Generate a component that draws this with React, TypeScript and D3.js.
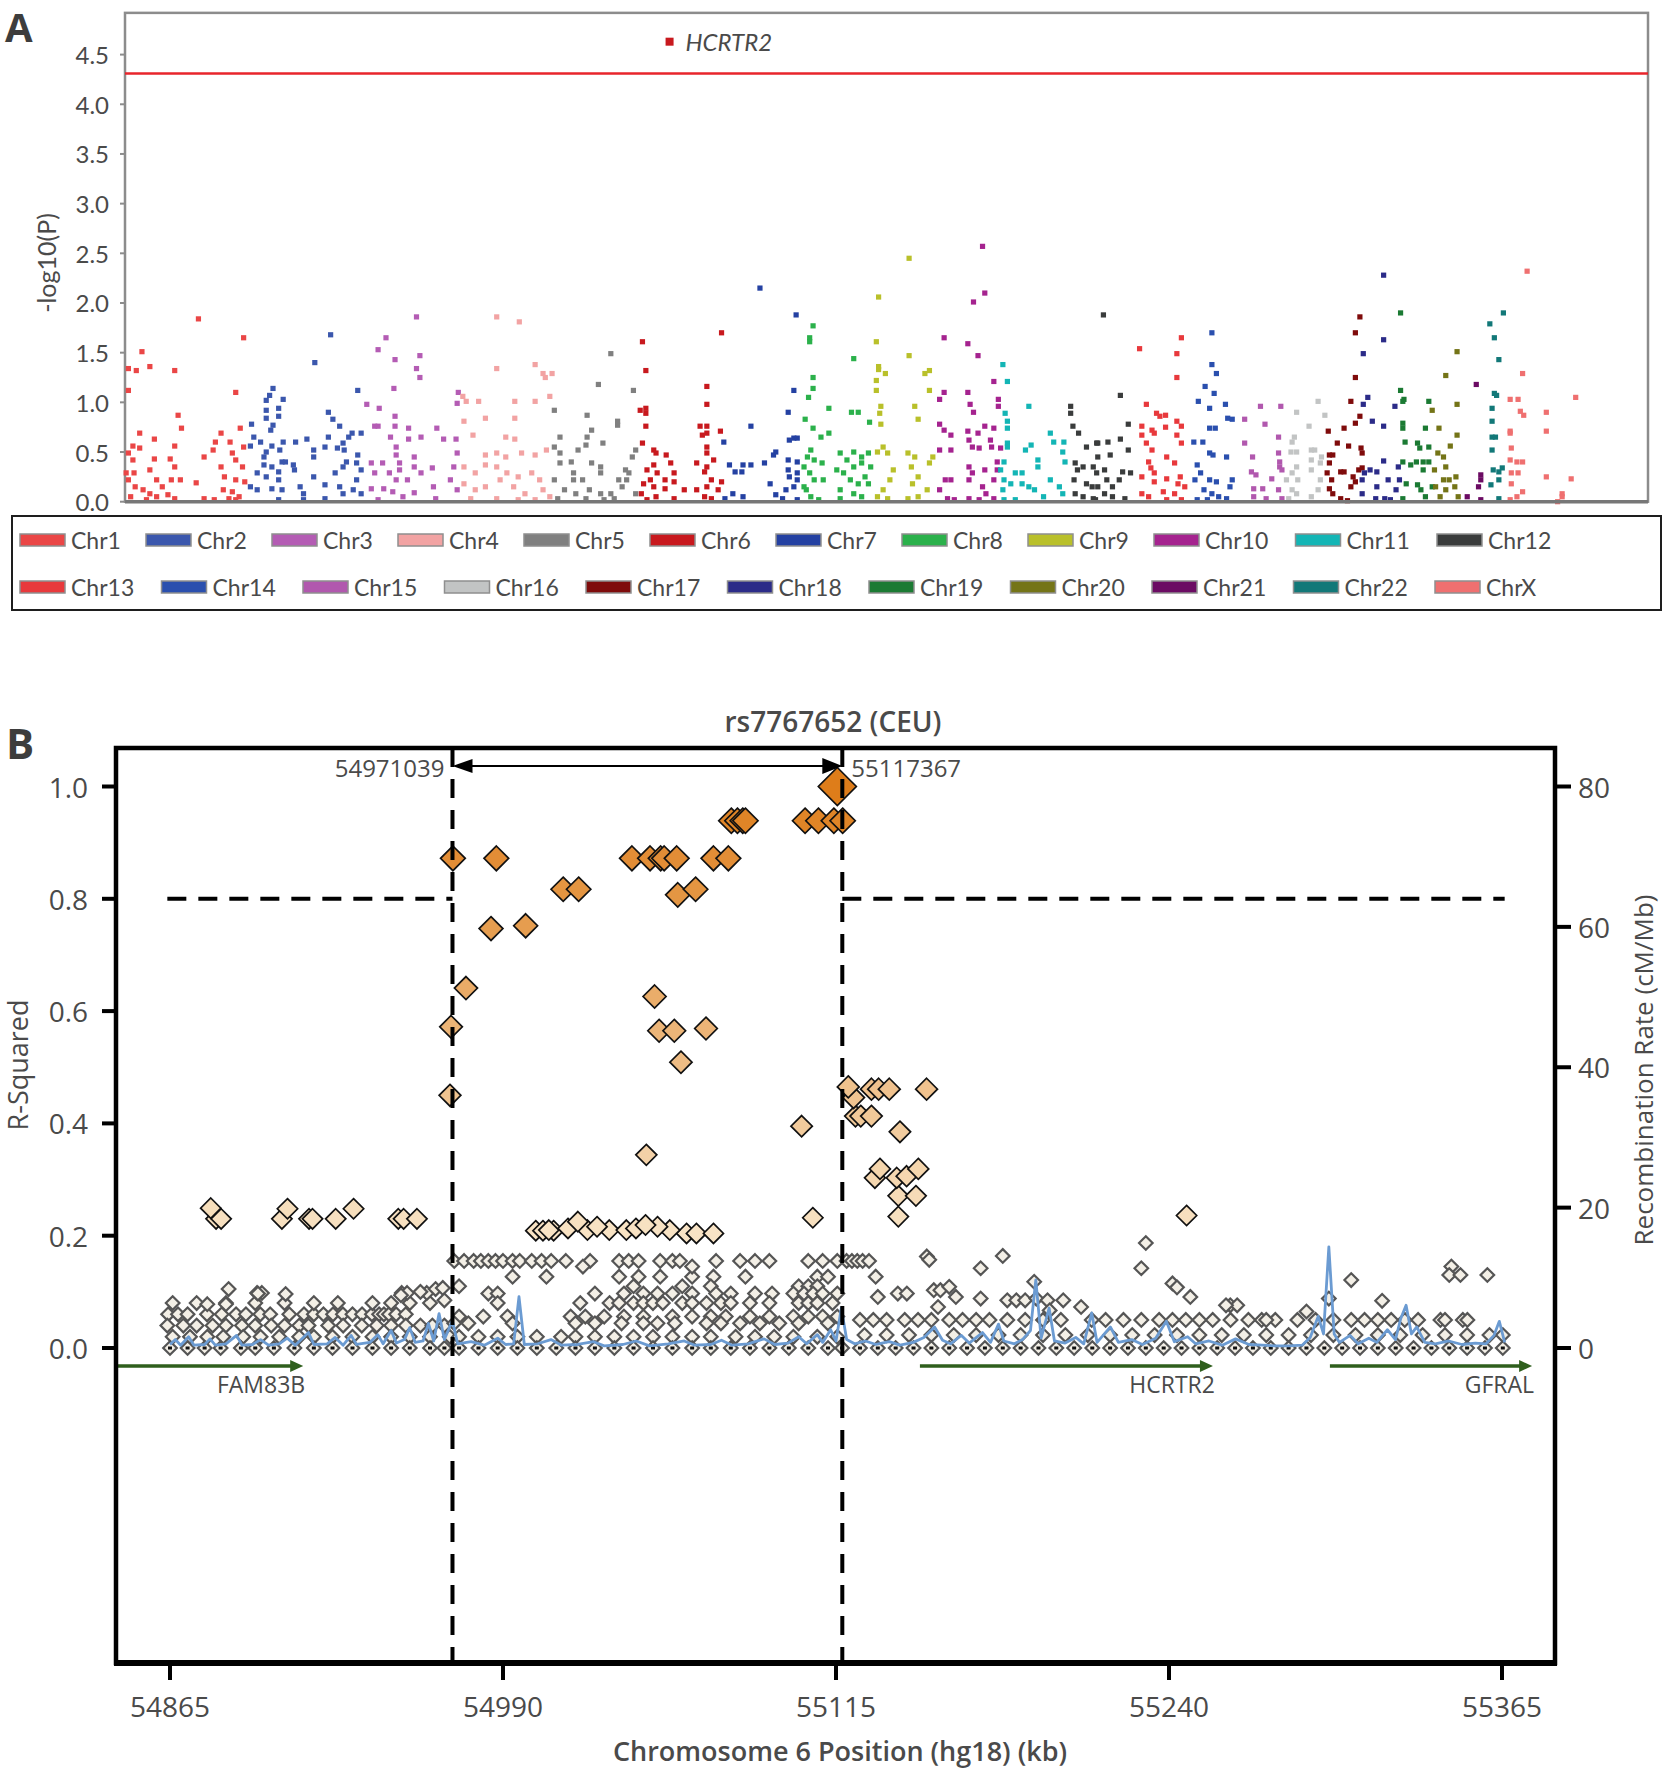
import React from "react";
import * as d3 from "d3";

// ---------------- Panel A data ----------------
const chromNames = ["Chr1","Chr2","Chr3","Chr4","Chr5","Chr6","Chr7","Chr8","Chr9","Chr10","Chr11","Chr12","Chr13","Chr14","Chr15","Chr16","Chr17","Chr18","Chr19","Chr20","Chr21","Chr22","ChrX"];
const chromColors = ["#ea4646","#3b57ad","#b45cb4","#f2a3a3","#808080","#c8191e","#2441a2","#2bb14b","#b9c02a","#a5238f","#13b5b5","#3a3c3c","#e8393c","#2a4fae","#b158ae","#c2c4c4","#7f0b0b","#2b2b88","#1b7a33","#747417","#6b0b63","#127878","#ef7070"];

const chr1 = [[3,1.34],[3,1.12],[15,1.51],[10,1.32],[22,1.36],[44,1.32],[65,1.84],[105,1.65],[98,1.10],[47,0.87],[50,0.74],[13,0.69],[26,0.63],[7,0.56],[13,0.54],[44,0.56],[3,0.49],[7,0.42],[26,0.43],[22,0.32],[40,0.43],[44,0.35],[28,0.22],[41,0.22],[49,0.22],[63,0.19],[3,0.22],[9,0.15],[16,0.12],[22,0.08],[28,0.05],[38,0.07],[44,0.03],[70,0.03],[79,0.02],[70,0.45],[78,0.52],[80,0.60],[85,0.69],[93,0.60],[102,0.74],[95,0.49],[105,0.55],[98,0.42],[85,0.35],[104,0.35],[88,0.25],[98,0.22],[106,0.20],[87,0.12],[95,0.10],[101,0.05],[92,0.03],[98,0.02],[5,0.05],[19,0.02],[1,0.29],[8,0.29],[33,0.15]];
const chr2 = [[131,1.14],[128,1.07],[125,1.02],[140,1.03],[136,0.94],[125,0.92],[136,0.86],[125,0.84],[131,0.77],[112,0.78],[129,0.72],[114,0.65],[120,0.60],[140,0.60],[151,0.60],[161,0.63],[111,0.56],[130,0.56],[125,0.50],[137,0.52],[168,1.40],[182,1.68],[206,1.12],[180,0.90],[184,0.83],[190,0.76],[180,0.65],[198,0.65],[201,0.69],[209,0.69],[193,0.59],[177,0.55],[188,0.54],[194,0.52],[167,0.52],[167,0.45],[206,0.47],[123,0.45],[139,0.40],[142,0.40],[149,0.37],[150,0.32],[123,0.37],[130,0.35],[136,0.30],[117,0.29],[111,0.15],[117,0.12],[125,0.25],[136,0.22],[130,0.13],[139,0.12],[155,0.15],[158,0.08],[167,0.25],[177,0.17],[186,0.29],[193,0.35],[196,0.40],[205,0.39],[209,0.32],[205,0.22],[190,0.15],[193,0.08],[202,0.12],[209,0.08],[177,0.03],[158,0.02],[136,0.02]];
const chr3 = [[258,1.86],[231,1.65],[224,1.53],[239,1.43],[261,1.47],[258,1.34],[261,1.25],[238,1.14],[214,0.98],[225,0.94],[239,0.86],[221,0.76],[224,0.76],[239,0.76],[251,0.74],[276,0.74],[235,0.65],[251,0.63],[262,0.65],[282,0.63],[293,0.63],[295,1.10],[294,0.99],[240,0.55],[240,0.47],[243,0.39],[256,0.45],[256,0.35],[243,0.32],[218,0.39],[228,0.39],[221,0.29],[234,0.29],[240,0.22],[250,0.22],[262,0.29],[272,0.34],[273,0.15],[288,0.22],[291,0.35],[294,0.49],[294,0.12],[218,0.13],[229,0.13],[237,0.10],[246,0.05],[256,0.09],[275,0.03],[224,0.02]];
const chr4 = [[329,1.86],[349,1.81],[329,1.34],[363,1.38],[370,1.29],[378,1.29],[372,1.25],[376,1.06],[363,1.01],[345,1.01],[313,1.01],[299,1.06],[302,1.01],[319,0.84],[345,0.84],[300,0.81],[308,0.67],[337,0.65],[345,0.63],[319,0.47],[329,0.49],[337,0.45],[351,0.49],[363,0.47],[373,0.52],[300,0.35],[310,0.29],[319,0.37],[329,0.35],[338,0.29],[348,0.25],[360,0.29],[367,0.22],[300,0.18],[310,0.12],[319,0.15],[332,0.22],[344,0.15],[354,0.08],[370,0.12],[376,0.05],[306,0.03],[329,0.03],[348,0.02],[363,0.02]];
const chr5 = [[430,1.49],[419,1.18],[450,1.12],[380,0.92],[409,0.87],[413,0.72],[385,0.65],[409,0.65],[423,0.59],[436,0.81],[436,0.77],[380,0.55],[385,0.49],[401,0.52],[408,0.57],[395,0.40],[413,0.39],[421,0.35],[421,0.29],[443,0.32],[446,0.29],[452,0.52],[449,0.45],[397,0.29],[405,0.22],[397,0.22],[385,0.39],[380,0.22],[389,0.12],[399,0.08],[411,0.12],[421,0.08],[430,0.08],[440,0.15],[437,0.22],[444,0.22],[452,0.08],[383,0.03],[408,0.03],[424,0.02],[433,0.03]];
const chr6 = [[458,1.61],[461,1.32],[456,0.92],[461,0.94],[461,0.89],[461,0.76],[458,0.59],[528,1.70],[515,1.16],[515,0.98],[509,0.76],[515,0.76],[515,0.69],[511,0.67],[527,0.71],[515,0.55],[515,0.49],[521,0.42],[506,0.39],[515,0.35],[513,0.30],[519,0.22],[528,0.20],[525,0.12],[515,0.15],[506,0.12],[513,0.05],[519,0.03],[468,0.52],[470,0.49],[479,0.47],[483,0.39],[468,0.37],[462,0.32],[471,0.29],[465,0.22],[478,0.22],[486,0.29],[486,0.20],[459,0.18],[468,0.15],[478,0.13],[457,0.08],[470,0.05],[486,0.03],[495,0.12],[462,0.02]];
const chr7 = [[562,2.15],[594,1.88],[592,1.12],[587,0.90],[554,0.76],[530,0.60],[588,0.62],[592,0.64],[595,0.64],[576,0.50],[574,0.47],[535,0.37],[540,0.30],[546,0.30],[547,0.37],[554,0.37],[566,0.39],[571,0.18],[587,0.42],[587,0.32],[588,0.25],[595,0.40],[595,0.29],[592,0.15],[595,0.22],[585,0.12],[576,0.07],[538,0.08],[547,0.05],[531,0.03],[582,0.03],[595,0.02]];
const chr8 = [[609,1.77],[606,1.65],[606,1.61],[609,1.25],[609,1.14],[605,1.05],[623,0.94],[645,1.44],[643,0.90],[649,0.90],[602,0.83],[609,0.74],[623,0.69],[616,0.65],[659,0.80],[607,0.52],[604,0.45],[610,0.42],[617,0.39],[601,0.35],[606,0.29],[610,0.22],[618,0.22],[601,0.15],[603,0.12],[607,0.05],[614,0.02],[633,0.49],[639,0.42],[645,0.50],[652,0.45],[658,0.49],[630,0.32],[636,0.29],[645,0.35],[652,0.39],[660,0.35],[642,0.22],[649,0.18],[655,0.25],[658,0.18],[633,0.12],[645,0.08],[652,0.05],[633,0.03]];
const chr9 = [[694,2.45],[667,2.06],[665,1.61],[694,1.47],[667,1.36],[667,1.33],[673,1.29],[665,1.22],[665,1.12],[708,1.29],[712,1.32],[712,1.12],[669,0.96],[668,0.89],[699,0.96],[702,0.83],[669,0.78],[671,0.55],[666,0.50],[675,0.49],[680,0.32],[677,0.22],[671,0.12],[666,0.05],[675,0.03],[693,0.49],[699,0.45],[696,0.35],[702,0.25],[697,0.18],[712,0.39],[715,0.45],[710,0.12],[702,0.05],[693,0.03]];
const chr10 = [[759,2.57],[761,2.10],[751,2.01],[725,1.65],[746,1.59],[755,1.47],[769,1.21],[725,1.10],[721,1.03],[746,1.10],[748,0.98],[751,0.90],[773,1.03],[773,0.96],[721,0.78],[725,0.72],[731,0.67],[746,0.71],[755,0.69],[761,0.76],[769,0.74],[721,0.52],[731,0.52],[747,0.62],[750,0.55],[756,0.54],[766,0.62],[767,0.55],[775,0.54],[747,0.35],[750,0.29],[761,0.32],[772,0.32],[772,0.40],[769,0.22],[747,0.22],[759,0.15],[762,0.08],[721,0.12],[726,0.22],[731,0.22],[728,0.03],[734,0.02],[747,0.03],[756,0.02],[769,0.03]];
const chr11 = [[777,1.38],[781,1.21],[800,0.96],[779,0.89],[781,0.81],[781,0.74],[781,0.59],[781,0.55],[819,0.69],[822,0.60],[831,0.60],[797,0.52],[802,0.57],[830,0.50],[832,0.40],[778,0.40],[775,0.32],[788,0.29],[794,0.29],[808,0.42],[808,0.35],[778,0.22],[784,0.18],[794,0.18],[800,0.15],[805,0.12],[777,0.12],[778,0.02],[788,0.02],[813,0.05],[819,0.22],[827,0.15],[830,0.08]];
const chr12 = [[837,0.96],[837,0.89],[839,0.76],[844,0.69],[851,0.55],[860,0.59],[841,0.39],[843,0.32],[840,0.22],[848,0.35],[851,0.18],[856,0.15],[860,0.29],[841,0.08],[848,0.05],[857,0.03],[866,1.88],[881,1.07],[888,0.78],[881,0.63],[888,0.52],[861,0.59],[870,0.60],[872,0.47],[861,0.45],[857,0.35],[867,0.32],[883,0.30],[890,0.29],[869,0.22],[861,0.15],[874,0.15],[880,0.22],[867,0.08],[874,0.05],[885,0.03],[859,0.02]];
const chr13 = [[898,1.54],[935,1.65],[931,1.49],[931,1.25],[904,0.98],[913,0.89],[916,0.86],[921,0.87],[900,0.76],[909,0.72],[911,0.69],[900,0.67],[921,0.75],[931,0.81],[935,0.76],[931,0.67],[935,0.59],[904,0.59],[909,0.52],[922,0.45],[929,0.39],[906,0.40],[908,0.34],[911,0.29],[900,0.25],[922,0.23],[934,0.25],[932,0.18],[911,0.20],[938,0.15],[919,0.10],[900,0.08],[906,0.05],[929,0.08],[935,0.02],[922,0.02]];
const chr14 = [[962,1.70],[962,1.38],[966,1.29],[956,1.16],[964,1.09],[950,1.01],[960,0.94],[974,0.98],[976,0.84],[980,0.83],[960,0.74],[965,0.74],[946,0.60],[954,0.60],[960,0.49],[963,0.47],[975,0.45],[949,0.37],[952,0.29],[947,0.22],[960,0.22],[966,0.20],[980,0.22],[978,0.15],[955,0.12],[962,0.08],[968,0.05],[958,0.02],[949,0.02],[975,0.03]];
const chr15 = [[1005,0.96],[1023,0.96],[991,0.83],[1009,0.78],[991,0.59],[1021,0.65],[998,0.45],[1021,0.49],[1022,0.40],[1022,0.35],[1024,0.32],[997,0.30],[1001,0.27],[1015,0.23],[999,0.13],[1007,0.13],[999,0.05],[1010,0.03],[1021,0.12],[1024,0.03]];
const chr16 = [[1056,1.01],[1037,0.90],[1062,0.87],[1048,0.76],[1035,0.65],[1033,0.60],[1032,0.50],[1037,0.50],[1050,0.52],[1053,0.52],[1050,0.42],[1059,0.45],[1058,0.39],[1050,0.32],[1033,0.29],[1037,0.35],[1028,0.22],[1038,0.22],[1058,0.22],[1033,0.12],[1037,0.08],[1050,0.05],[1056,0.12],[1030,0.03]];
const chr17 = [[1093,1.86],[1089,1.70],[1089,1.25],[1085,1.01],[1093,0.86],[1089,0.79],[1065,0.71],[1079,0.74],[1073,0.59],[1083,0.56],[1094,0.54],[1095,0.49],[1066,0.47],[1069,0.47],[1066,0.39],[1064,0.29],[1068,0.22],[1066,0.13],[1069,0.08],[1076,0.30],[1079,0.30],[1087,0.25],[1089,0.20],[1092,0.32],[1095,0.34],[1085,0.15],[1076,0.03],[1082,0.01]];
const chr18 = [[1114,2.28],[1114,1.63],[1096,1.49],[1100,1.05],[1096,0.98],[1104,0.81],[1114,0.76],[1124,0.96],[1114,0.41],[1102,0.32],[1108,0.30],[1097,0.29],[1095,0.22],[1108,0.15],[1118,0.22],[1127,0.35],[1128,0.22],[1125,0.12],[1095,0.08],[1107,0.03],[1115,0.03],[1120,0.02]];
const chr19 = [[1129,1.90],[1129,1.12],[1132,1.03],[1131,1.01],[1131,0.79],[1131,0.74],[1133,0.60],[1154,1.01],[1151,0.74],[1144,0.59],[1146,0.54],[1154,0.55],[1131,0.40],[1138,0.37],[1143,0.40],[1149,0.40],[1154,0.40],[1149,0.32],[1144,0.17],[1147,0.12],[1151,0.05],[1134,0.18],[1131,0.03],[1157,0.15]];
const chr20 = [[1179,1.51],[1169,1.27],[1179,0.98],[1157,0.92],[1163,0.74],[1179,0.67],[1173,0.56],[1162,0.49],[1167,0.45],[1169,0.35],[1159,0.32],[1167,0.22],[1172,0.22],[1178,0.25],[1160,0.15],[1169,0.12],[1177,0.15],[1180,0.05],[1164,0.05]];
const chr21 = [[1196,1.18],[1200,0.27],[1198,0.15],[1200,0.22],[1188,0.05],[1200,0.02]];
const chr22 = [[1220,1.90],[1208,1.79],[1212,1.65],[1216,1.43],[1212,1.09],[1214,1.07],[1210,0.94],[1210,0.81],[1210,0.65],[1213,0.65],[1210,0.52],[1211,0.32],[1216,0.30],[1219,0.34],[1216,0.22],[1209,0.17],[1216,0.03]];
const chrX = [[1241,2.32],[1237,1.29],[1226,1.03],[1233,1.03],[1235,0.91],[1238,0.87],[1258,0.90],[1284,1.05],[1226,0.71],[1226,0.69],[1258,0.71],[1227,0.54],[1226,0.42],[1232,0.40],[1237,0.40],[1227,0.29],[1233,0.29],[1227,0.18],[1258,0.25],[1280,0.23],[1237,0.10],[1232,0.05],[1226,0.02],[1272,0.08],[1272,0.05],[1268,0.00]];
const manhattan = [chr1,chr2,chr3,chr4,chr5,chr6,chr7,chr8,chr9,chr10,chr11,chr12,chr13,chr14,chr15,chr16,chr17,chr18,chr19,chr20,chr21,chr22,chrX];

const topHit = { pos: 482, value: 4.63, label: "HCRTR2", chrom: 5 };
const thresholdA = 4.31;
const yTicksA = [0, 0.5, 1.0, 1.5, 2.0, 2.5, 3.0, 3.5, 4.0, 4.5];

// ---------------- Panel B data ----------------
const leadSnp = { name: "rs7767652 (CEU)", kb: 55115.5, r2: 1.0 };
const blockBounds = [54971.039, 55117.367];
const blockLabels = ["54971039", "55117367"];
const r2Threshold = 0.8;
const thresholdSpan = [54864, 55366];

const ldColored = [
  [54971.2,0.872],[54987.5,0.872],[55012.6,0.817],[55018.4,0.817],[54985.5,0.747],[54998.5,0.752],[54976.1,0.641],[54970.5,0.572],[54970.1,0.45],
  [55038.4,0.872],[55045.2,0.872],[55049.2,0.872],[55050.5,0.872],[55055.2,0.872],[55069.0,0.872],[55074.6,0.872],
  [55055.6,0.807],[55062.3,0.817],
  [55075.7,0.939],[55078,0.939],[55080,0.939],[55081,0.939],[55103.4,0.939],[55108.4,0.939],[55114.2,0.939],[55117.5,0.939],
  [55046.9,0.626],[55048.6,0.565],[55054.3,0.565],[55066.2,0.569],[55056.8,0.509],
  [55043.8,0.344],[55102.1,0.395],
  [55119.6,0.465],[55121.6,0.446],[55128.3,0.461],[55131,0.461],[55135,0.461],[55149,0.461],
  [55122.3,0.413],[55124.3,0.413],[55128.3,0.413],[55139,0.385],
  [55131.5,0.319],[55129.6,0.303],[55137.8,0.303],[55141.5,0.306],[55145.9,0.319],[55138.4,0.271],[55145,0.271],[55138.4,0.234],[55106.3,0.232],[55246.6,0.236],
  [54880.3,0.249],[54882.3,0.23],[54884.2,0.23],[54907,0.23],[54909.1,0.248],[54917.2,0.23],[54918.5,0.23],[54927.2,0.23],[54933.9,0.248],[54950.7,0.23],[54952.7,0.23],[54957.7,0.23],
  [55002.3,0.209],[55005,0.209],[55009,0.209],[55007.2,0.21],[55014.4,0.213],[55018.1,0.225],[55021.7,0.21],[55025.3,0.216],[55029.9,0.21],[55036.3,0.21],[55039.9,0.213],[55043.5,0.219],[55048,0.216],[55052.6,0.21],[55058.9,0.204],[55062.6,0.204],[55069,0.204]
];

const grayRows = [
  { r2: 0.06, kb: [54864.3,54868,54871.6,54878.9,54884.4,54889.8,54893.5,54898.9,54902.6,54909.8,54915.3,54919,54922.6,54926.2,54929.9,54933.5,54937.1,54940.8,54943.5,54945.3,54947.2,54949.9,54953.5] },
  { r2: 0.08, kb: [54866,54875,54886,54897,54908,54919,54928,54941,54948,54955,54962.6] },
  { r2: 0.04, kb: [54864,54870,54875,54881,54886,54892,54897,54903,54908,54913.5,54917,54924.4,54930,54937,54942.6,54948,54953.5,54959,54963.5,54968] },
  { r2: 0.02, kb: [54866,54872.5,54879,54885,54892.5,54899,54906,54913.5,54919,54926,54933.5,54941,54948,54955,54962.6,54970] },
  { r2: 0.0, kb: [54865,54871.6,54878,54884,54891.6,54897,54904,54911.7,54919,54926,54933.5,54941,54948,54955,54962.6,54968] },
  { r2: 0.155, kb: [54971.7,54975.4,54979,54981.7,54984.5,54987.2,54990,54993.6,54996.3,55000.8,55004.5,55008.1,55013.6,55022.7,55033.6,55037.2,55040.9,55049,55053.6,55056.4,55070,55079,55084.6,55090,55104.6,55110,55115.5,55119,55121,55123,55125,55127.4] },
  { r2: 0.127, kb: [54993.6,55006.3,55033.6,55040.9,55049,55061,55069,55081,55108,55112,55129.9] },
  { r2: 0.11, kb: [54973.5,55039,55057.3,55068,55101,55104.6,55108] },
  { r2: 0.097, kb: [54984.5,54988,55024.5,55035.4,55042.7,55048,55053.6,55061,55070,55075.5,55084.6,55091,55099,55103,55106.4,55110,55115.5,55138.2,55141.6] },
  { r2: 0.08, kb: [54988,55019,55030,55033.6,55039,55042.7,55046.3,55050,55057.3,55061,55066.4,55071.8,55075.5,55082.7,55090,55101,55104.6,55108,55113.7] },
  { r2: 0.056, kb: [54973.5,54982.6,54991.7,55015.4,55020.9,55028,55035.4,55042.7,55053.6,55061,55068,55073.6,55082.7,55090,55099,55104.6,55110,55115.5] },
  { r2: 0.044, kb: [54971.7,54977,54993.6,55017.2,55024.5,55034.5,55042.7,55048,55054.5,55066.4,55071.8,55079,55086.4,55093.7,55101,55112] },
  { r2: 0.02, kb: [54973.5,54980.8,54988,54995.4,55002.7,55011.8,55017.2,55024.5,55031.8,55039,55046.3,55053.6,55061,55068,55077.3,55084.6,55091.8,55099,55108,55115.5] },
  { r2: 0.0, kb: [54973.5,54980.8,54988,54995.4,55002.7,55010,55017.2,55024.5,55031.8,55039,55046.3,55053.6,55061,55068,55075.5,55082.7,55090,55097.3,55104.6,55112,55117.3] },
  { r2: 0.05, kb: [55124,55129,55134,55140.8,55145.8,55150.8,55157.5,55162.5,55167.6,55172.6,55179.3,55186,55192.7,55199.4,55211,55216.2,55222.9,55229.6,55236.3,55241.3,55246.3,55251.4,55256.4,55263.1,55269.8,55274.8,55279.9,55288.2,55295,55301.7,55308.4,55313.4,55318.4,55323.4,55328.5,55333.5,55341.9,55350.3] },
  { r2: 0.023, kb: [55125.7,55134,55142.4,55150.8,55159.2,55167.6,55176,55184.3,55192.7,55201.1,55209.5,55217.9,55226.2,55234.6,55243,55251.4,55259.8,55268.1,55276.5,55284.9,55293.3,55301.7,55310,55318.4,55326.8,55335.2,55343.6,55351.9,55360.3,55365.3] },
  { r2: 0.0, kb: [55124,55130.7,55137.4,55144.1,55150.8,55157.5,55164.2,55170.9,55177.6,55184.3,55191,55197.7,55204.4,55211.2,55217.9,55224.6,55231.3,55238,55244.7,55251.4,55258.1,55264.8,55271.5,55278.2,55284.9,55291.6,55298.3,55305,55311.7,55318.4,55325.1,55331.8,55338.5,55345.2,55351.9,55358.6,55365.3] }
];

const grayScatter = [
  [54887,0.105],[54897.7,0.098],[54899.5,0.098],[54908.4,0.096],[54879,0.078],[54886,0.078],[54952,0.098],[54954,0.098],[54961.4,0.098],[54964.7,0.105],[54967.4,0.107],[54898,0.097],[54951.7,0.094],[54959,0.1],[54968,0.085],
  [55020,0.145],[55061,0.145],
  [55149.1,0.163],[55150,0.157],[55177.6,0.164],[55169.3,0.142],[55231.3,0.187],[55229.6,0.142],[55241.3,0.115],[55243,0.108],[55248,0.091],[55308.4,0.121],[55346,0.145],[55345.2,0.13],[55349.4,0.13],[55359.5,0.13],[55320,0.084],[55300,0.088],[55263,0.076],[55265.6,0.076],[55291.6,0.065],[55343.6,0.05],[55352,0.05],
  [55130.7,0.091],[55151.7,0.103],[55154.2,0.103],[55157.5,0.109],[55160,0.091],[55153.3,0.073],[55169.3,0.088],[55179.3,0.085],[55182.7,0.085],[55186,0.085],[55190.2,0.088],[55194.4,0.085],[55200.3,0.085],[55189.4,0.118],[55195.2,0.067],[55207,0.073],[55261.4,0.076],[55276.5,0.05]
];

const recomb = [
  [54865,0.5],[54867,1.2],[54869,0.4],[54872,1.6],[54874,0.4],[54878,0.5],[54880,1.3],[54882,0.4],[54886,0.6],[54890,1.8],[54892,0.4],[54896,0.5],[54899,1.2],[54902,0.4],[54906,0.6],[54909,1.4],[54912,0.4],[54917,2.2],[54919,0.5],[54924,0.6],[54927,1.5],[54930,0.4],[54933,1.8],[54935,0.5],[54940,0.8],[54943,1.9],[54945,0.6],[54948,2.5],[54950,0.7],[54953,1.2],[54955,2.9],[54957,0.8],[54960,1.0],[54962,3.5],[54964,1.0],[54966,4.9],[54968,1.2],[54971,3.9],[54973,0.6],[54978,0.9],[54983,0.4],[54988,1.4],[54991,0.5],[54994,0.6],[54996,7.3],[54998,0.5],[55003,0.6],[55008,1.2],[55012,0.4],[55018,0.5],[55024,0.9],[55028,0.3],[55035,0.5],[55040,1.0],[55045,0.3],[55052,0.6],[55058,1.0],[55062,0.4],[55068,0.5],[55072,1.1],[55076,0.4],[55082,0.6],[55088,1.3],[55092,0.5],[55097,0.7],[55101,1.6],[55104,0.6],[55108,1.9],[55110,0.8],[55113,2.6],[55115,1.0],[55117,5.7],[55119,1.2],[55122,0.6],[55126,1.0],[55130,0.5],[55135,0.9],[55139,0.4],[55144,0.8],[55148,1.5],[55152,3.0],[55155,1.1],[55158,0.6],[55162,1.8],[55165,0.7],[55170,2.2],[55173,0.8],[55176,3.4],[55178,1.0],[55182,0.6],[55185,1.2],[55188,2.5],[55190,9.7],[55192,1.4],[55195,5.7],[55197,1.0],[55201,0.7],[55205,1.5],[55208,0.6],[55211,5.0],[55213,0.8],[55218,3.0],[55221,0.8],[55226,1.2],[55230,0.5],[55235,1.4],[55239,3.8],[55242,0.9],[55247,1.6],[55250,0.6],[55255,1.0],[55260,0.4],[55265,1.3],[55270,0.5],[55275,0.4],[55280,0.3],[55285,0.3],[55290,0.4],[55293,1.5],[55296,4.5],[55298,2.0],[55300,14.4],[55302,2.0],[55304,0.8],[55308,1.8],[55311,0.6],[55315,1.4],[55318,0.8],[55322,2.6],[55325,1.2],[55327,4.2],[55329,6.1],[55331,2.0],[55333,3.0],[55336,0.8],[55340,0.6],[55345,1.0],[55350,0.5],[55355,0.7],[55359,0.6],[55362,1.8],[55364,3.8],[55366,0.8]
];

const genes = [
  { name: "FAM83B", start: 54845, end: 54915 },
  { name: "HCRTR2", start: 55146.5, end: 55256.5 },
  { name: "GFRAL", start: 55300.4, end: 55376.3 }
];

const xTicksB = [54865, 54990, 55115, 55240, 55365];
const yTicksB = [0, 0.2, 0.4, 0.6, 0.8, 1.0];
const yTicksR = [0, 20, 40, 60, 80];

const diamond = (r: number) => `M0,${-r}L${r},0L0,${r}L${-r},0Z`;

export default function App() {
  const W = 1668, H = 1772;
  // Panel A scales
  const xA = d3.scaleLinear().domain([0, 1348]).range([125, 1648]);
  const yA = d3.scaleLinear().domain([0, 4.5]).range([501.7, 54.6]);
  const topA = yA(4.92);
  // Panel B scales
  const xB = d3.scaleLinear().domain([54865, 55365]).range([170, 1502]);
  const yB = d3.scaleLinear().domain([0, 1]).range([1348, 786.5]);
  const yR = d3.scaleLinear().domain([0, 80]).range([1348, 786.5]);
  const ldColor = d3.scaleLinear<string>().domain([0.2, 1]).range(["#f8e4c6", "#de7d1a"]);
  const ldSize = d3.scaleLinear().domain([0.2, 1]).range([10, 12.8]);
  const recLine = d3.line<number[]>().x(d => xB(d[0])).y(d => yR(d[1]));

  const fB = "'Open Sans', 'Noto Sans', sans-serif";
  const fA = "Lato, 'Open Sans', sans-serif";
  const txt = "#4a4a4a";

  const frameB = { l: 116, r: 1555, t: 748, b: 1663 };

  // legend layout
  const legendItems: { name: string; color: string; x: number; y: number }[] = [];
  let lx = 20;
  chromNames.forEach((n, i) => {
    if (i === 12) lx = 20;
    const row = i < 12 ? 0 : 1;
    legendItems.push({ name: n, color: chromColors[i], x: lx, y: row === 0 ? 540 : 587 });
    lx += n.length <= 4 ? 126 : 141.5;
  });

  const grayPts: number[][] = [];
  grayRows.forEach(row => row.kb.forEach(k => grayPts.push([k, row.r2])));
  grayScatter.forEach(p => grayPts.push(p));

  const colored = [...ldColored].sort((a, b) => a[1] - b[1]);
  const dash = "19 12";

  return (
    <svg width={W} height={H} style={{ position: "absolute", left: 0, top: 0, background: "#fff" }} xmlns="http://www.w3.org/2000/svg">
      <rect x={0} y={0} width={W} height={H} fill="#fff" />
      {/* ================= Panel A ================= */}
      <text x={5} y={42} fontFamily={fB} fontWeight={700} fontSize={40} fill="#3d3d3d">A</text>
      <rect x={xA(0)} y={topA} width={xA(1348) - xA(0)} height={yA(0) - topA} fill="none" stroke="#8c8c8c" strokeWidth={2.5} />
      {yTicksA.map(t => (
        <g key={"ta" + t}>
          <line x1={xA(0) - 5} x2={xA(0)} y1={yA(t)} y2={yA(t)} stroke="#8c8c8c" strokeWidth={2} />
          <text x={109} y={yA(t)} textAnchor="end" dominantBaseline="central" fontFamily={fA} fontSize={24} fill={txt}>{t.toFixed(1)}</text>
        </g>
      ))}
      <text transform={`translate(46,263) rotate(-90)`} textAnchor="middle" dominantBaseline="central" fontFamily={fA} fontSize={25} fill={txt}>-log10(P)</text>
      <line x1={xA(0)} x2={xA(1348)} y1={yA(thresholdA)} y2={yA(thresholdA)} stroke="#e8252b" strokeWidth={2.5} />
      {manhattan.map((pts, ci) => (
        <g key={"c" + ci} fill={chromColors[ci]}>
          {pts.map((p, j) => (
            <rect key={j} x={xA(p[0]) - 2.6} y={yA(p[1]) - 2.6} width={5.2} height={5.2} />
          ))}
        </g>
      ))}
      <rect x={xA(topHit.pos) - 4} y={yA(topHit.value) - 4} width={8} height={8} fill={chromColors[topHit.chrom]} />
      <text x={xA(topHit.pos) + 16} y={yA(topHit.value)} dominantBaseline="central" fontFamily={fA} fontStyle="italic" fontSize={24} fill={txt}>{topHit.label}</text>
      <line x1={xA(0)} x2={xA(1348)} y1={yA(0)} y2={yA(0)} stroke="#777" strokeWidth={3.5} />

      {/* legend */}
      <rect x={12} y={516} width={1649} height={94} fill="#fff" stroke="#1e1e1e" strokeWidth={2} />
      {legendItems.map(it => (
        <g key={it.name}>
          <rect x={it.x} y={it.y - 6} width={45} height={12} fill={it.color} stroke="#8f8f8f" strokeWidth={1.5} />
          <text x={it.x + 51} y={it.y} dominantBaseline="central" fontFamily={fA} fontSize={23} fill={txt}>{it.name}</text>
        </g>
      ))}

      {/* ================= Panel B ================= */}
      <text x={6} y={759} fontFamily={fB} fontWeight={700} fontSize={42} fill="#3d3d3d">B</text>
      <text x={833} y={721} textAnchor="middle" dominantBaseline="central" fontFamily={fB} fontWeight={600} fontSize={28} fill={txt}>{leadSnp.name}</text>

      {/* gray diamonds */}
      <g fill="#f3efe6" stroke="#555" strokeWidth={2.2}>
        {grayPts.map((p, i) => (
          <path key={"g" + i} d={diamond(6.8)} transform={`translate(${xB(p[0])},${yB(p[1])})`} />
        ))}
      </g>
      {/* baseline markers */}
      <g fill="#111">
        {grayPts.filter(p => p[1] === 0).map((p, i) => (
          <rect key={"b" + i} x={xB(p[0]) - 2} y={yB(0) - 1.5} width={4} height={3} />
        ))}
      </g>
      {/* recombination */}
      <path d={recLine(recomb) || ""} fill="none" stroke="#6b9bd2" strokeWidth={2.8} strokeLinejoin="round" />
      {/* colored diamonds */}
      <g stroke="#111" strokeWidth={1.7}>
        {colored.map((p, i) => (
          <path key={"o" + i} d={diamond(ldSize(p[1]))} fill={ldColor(p[1])} transform={`translate(${xB(p[0])},${yB(p[1])})`} />
        ))}
        <path d={diamond(19)} fill={ldColor(leadSnp.r2)} transform={`translate(${xB(leadSnp.kb)},${yB(leadSnp.r2)})`} />
      </g>

      {/* threshold dashed lines */}
      <line x1={xB(thresholdSpan[0])} x2={xB(blockBounds[0])} y1={yB(r2Threshold)} y2={yB(r2Threshold)} stroke="#000" strokeWidth={4} strokeDasharray={dash} />
      <line x1={xB(blockBounds[1])} x2={xB(thresholdSpan[1])} y1={yB(r2Threshold)} y2={yB(r2Threshold)} stroke="#000" strokeWidth={4} strokeDasharray={dash} />
      {blockBounds.map((b, i) => (
        <line key={"v" + i} x1={xB(b)} x2={xB(b)} y1={frameB.t} y2={frameB.b} stroke="#000" strokeWidth={4} strokeDasharray={dash} />
      ))}
      {/* double arrow */}
      <line x1={xB(blockBounds[0]) + 10} x2={xB(blockBounds[1]) - 10} y1={766} y2={766} stroke="#000" strokeWidth={2} />
      <path d={`M${xB(blockBounds[0])},766L${xB(blockBounds[0]) + 20},759L${xB(blockBounds[0]) + 20},773Z`} fill="#000" />
      <path d={`M${xB(blockBounds[1])},766L${xB(blockBounds[1]) - 20},758L${xB(blockBounds[1]) - 20},774Z`} fill="#000" />
      <text x={xB(blockBounds[0]) - 8} y={767} textAnchor="end" dominantBaseline="central" fontFamily={fB} fontSize={24} fill={txt}>{blockLabels[0]}</text>
      <text x={xB(blockBounds[1]) + 9} y={767} textAnchor="start" dominantBaseline="central" fontFamily={fB} fontSize={24} fill={txt}>{blockLabels[1]}</text>

      {/* genes */}
      {genes.map(g => {
        const x0 = Math.max(xB(g.start), frameB.l + 1);
        const x1 = xB(g.end);
        return (
          <g key={g.name}>
            <line x1={x0} x2={x1 - 8} y1={1366} y2={1366} stroke="#2f5f1d" strokeWidth={3.5} />
            <path d={`M${x1},1366L${x1 - 13},1360L${x1 - 13},1372Z`} fill="#2f5f1d" />
            <text x={x1 + 2} y={1384} textAnchor="end" dominantBaseline="central" fontFamily={fB} fontSize={23} fill={txt}>{g.name}</text>
          </g>
        );
      })}

      {/* frame */}
      <rect x={frameB.l} y={frameB.t} width={frameB.r - frameB.l} height={frameB.b - frameB.t} fill="none" stroke="#000" strokeWidth={4.5} />
      <line x1={frameB.l - 2} x2={frameB.r + 2} y1={frameB.b} y2={frameB.b} stroke="#000" strokeWidth={6} />

      {/* axes */}
      {yTicksB.map(t => (
        <g key={"yb" + t}>
          <line x1={frameB.l - 14} x2={frameB.l} y1={yB(t)} y2={yB(t)} stroke="#000" strokeWidth={4} />
          <text x={88} y={yB(t)} textAnchor="end" dominantBaseline="central" fontFamily={fB} fontSize={28} fill={txt}>{t.toFixed(1)}</text>
        </g>
      ))}
      {yTicksR.map(t => (
        <g key={"yr" + t}>
          <line x1={frameB.r} x2={frameB.r + 16} y1={yR(t)} y2={yR(t)} stroke="#000" strokeWidth={4} />
          <text x={1578} y={yR(t)} textAnchor="start" dominantBaseline="central" fontFamily={fB} fontSize={28} fill={txt}>{t}</text>
        </g>
      ))}
      {xTicksB.map(t => (
        <g key={"xb" + t}>
          <line x1={xB(t)} x2={xB(t)} y1={frameB.b} y2={frameB.b + 17} stroke="#000" strokeWidth={4} />
          <text x={xB(t)} y={1706} textAnchor="middle" dominantBaseline="central" fontFamily={fB} fontSize={28} fill={txt}>{t}</text>
        </g>
      ))}
      <text transform={`translate(17,1065) rotate(-90)`} textAnchor="middle" dominantBaseline="central" fontFamily={fB} fontSize={27} fill={txt}>R-Squared</text>
      <text transform={`translate(1643,1070) rotate(-90)`} textAnchor="middle" dominantBaseline="central" fontFamily={fB} fontSize={26} fill={txt}>Recombination Rate (cM/Mb)</text>
      <text x={840} y={1750} textAnchor="middle" dominantBaseline="central" fontFamily={fB} fontWeight={600} fontSize={27} fill={txt}>Chromosome 6 Position (hg18) (kb)</text>
    </svg>
  );
}
